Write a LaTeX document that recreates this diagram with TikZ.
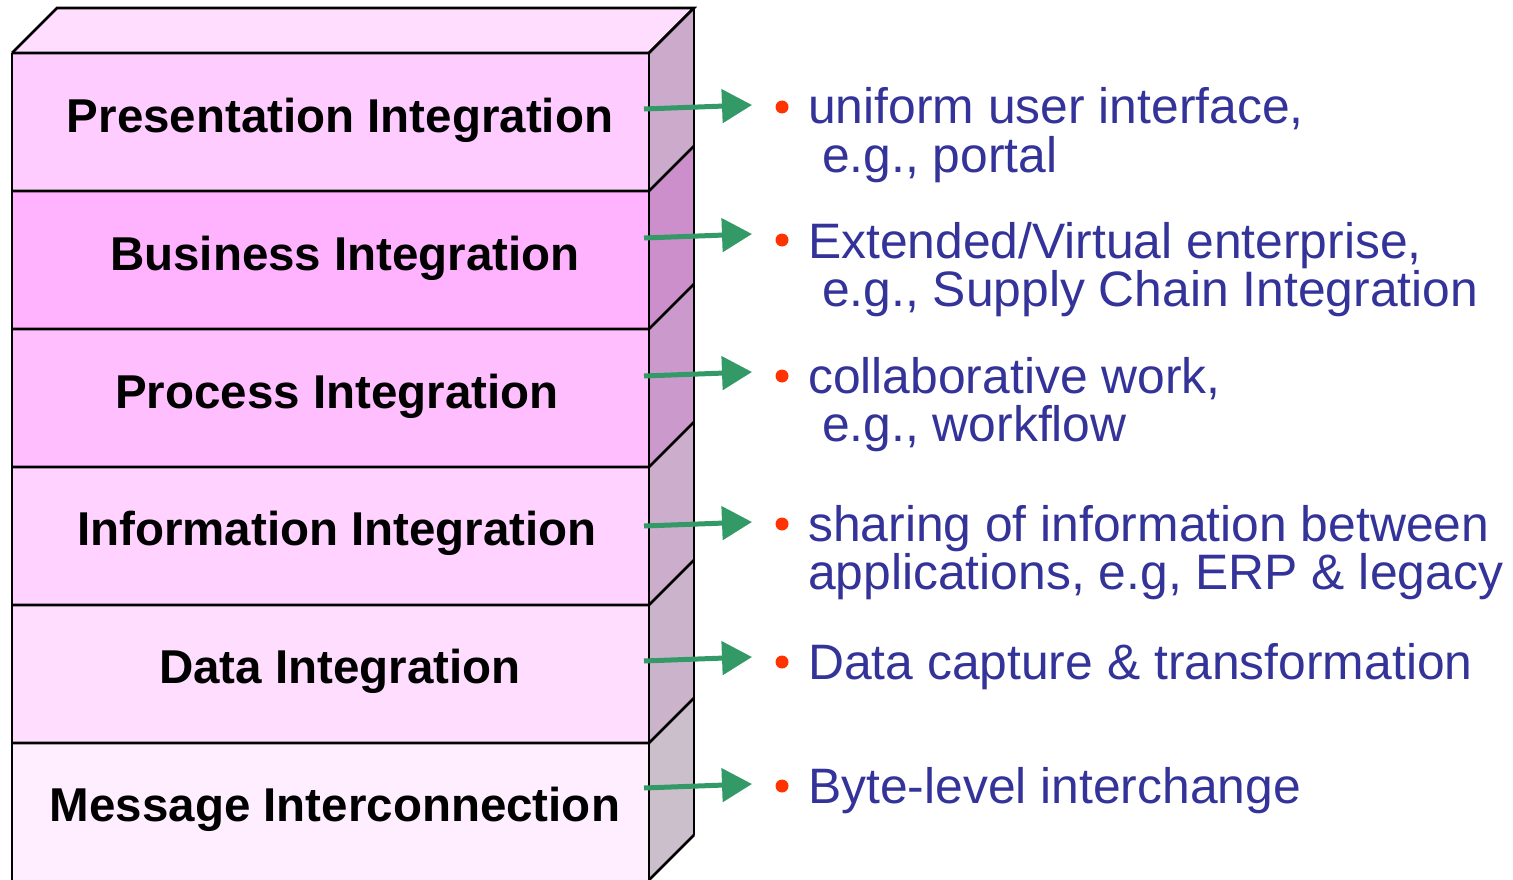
\documentclass[tikz,border=0pt]{standalone}
\usepackage{fontspec}
\setmainfont{Liberation Sans}
\usetikzlibrary{arrows.meta}
\definecolor{topc}{HTML}{FFDDFF}
\definecolor{fa}{HTML}{FFCCFF}
\definecolor{fb}{HTML}{FFB3FF}
\definecolor{fc}{HTML}{FFBFFF}
\definecolor{fd}{HTML}{FFD2FF}
\definecolor{fe}{HTML}{FFDDFF}
\definecolor{ff}{HTML}{FFEEFF}
\definecolor{sa}{HTML}{CCAACC}
\definecolor{sb}{HTML}{CC8FCC}
\definecolor{sc}{HTML}{CC99CC}
\definecolor{sd}{HTML}{CCADCC}
\definecolor{se}{HTML}{CCB3CC}
\definecolor{sf}{HTML}{CCBFCC}
\definecolor{arrowc}{HTML}{339966}
\definecolor{bulc}{HTML}{FF3300}
\definecolor{txtc}{HTML}{333399}
\tikzset{
  face/.style={draw=black, line width=2.6pt, line join=miter},
  layerlabel/.style={font=\bfseries\fontsize{47.5}{50}\selectfont, anchor=base, inner sep=0pt},
  desc/.style={font=\fontsize{49.8}{48}\selectfont, text=txtc, anchor=base west, inner sep=0pt},
  bul/.style={circle, fill=bulc, minimum size=13pt, inner sep=0pt},
  conn/.style={draw=arrowc, line width=5pt, -{Triangle[length=30pt,width=33pt]}}
}
\begin{document}
\begin{tikzpicture}[x=1pt,y=-1pt]
\useasboundingbox (0,0) rectangle (1513,880);
% top face
\fill[topc] (12,53) -- (57,8) -- (694,8) -- (649,53) -- cycle;
\draw[face] (12,53) -- (57,8) -- (694,8) -- (649,53);
% layers
\foreach \t/\b/\fc/\sc in {53/191/fa/sa,191/329/fb/sb,329/467/fc/sc,467/605/fd/sd,605/743/fe/se,743/880/ff/sf}{
  \fill[\fc] (12,\t) rectangle (649,\b);
  \fill[\sc] (649,\t) -- (694,\t-45) -- (694,\b-45) -- (649,\b) -- cycle;
  \draw[face] (12,\t) -- (649,\t) -- (694,\t-45);
  \draw[face] (694,\t-45) -- (694,\b-45);
}
\draw[face] (12,53) -- (12,882);
\draw[face] (649,53) -- (649,882);
\draw[face] (694,835) -- (649,880);
% labels
\node[layerlabel] (l1) at (340,133) {Presentation Integration};
\node[layerlabel] (l2) at (345,270) {Business Integration};
\node[layerlabel] (l3) at (337,408) {Process Integration};
\node[layerlabel] (l4) at (337,545) {Information Integration};
\node[layerlabel] (l5) at (340,683) {Data Integration};
\node[layerlabel] (l6) at (335,821) {Message Interconnection};
% arrows
\foreach \i/\ys/\ye in {1/109/105,2/238/234,3/376/372,4/526/522,5/661/657,6/788/784}{
  \coordinate (s\i) at (644,\ys);
  \coordinate (e\i) at (752,\ye);
  \draw[conn] (s\i) -- (e\i);
}
% bullets and texts
\node[bul] (b1) at (782,107) {};
\node[desc] (d1a) at (808,124) {uniform user interface,};
\node[desc] (d1b) at (822,172) {e.g., portal};
\node[bul] (b2) at (782,240) {};
\node[desc] (d2a) at (808,258) {Extended/Virtual enterprise,};
\node[desc] (d2b) at (822,306) {e.g., Supply Chain Integration};
\node[bul] (b3) at (782,376) {};
\node[desc] (d3a) at (808,393) {collaborative work,};
\node[desc] (d3b) at (822,441) {e.g., workflow};
\node[bul] (b4) at (782,524) {};
\node[desc] (d4a) at (808,541) {sharing of information between};
\node[desc] (d4b) at (808,589) {applications, e.g, ERP \& legacy};
\node[bul] (b5) at (782,662) {};
\node[desc] (d5) at (808,679) {Data capture \& transformation};
\node[bul] (b6) at (782,786) {};
\node[desc] (d6) at (808,803) {Byte-level interchange};
\end{tikzpicture}
\end{document}
